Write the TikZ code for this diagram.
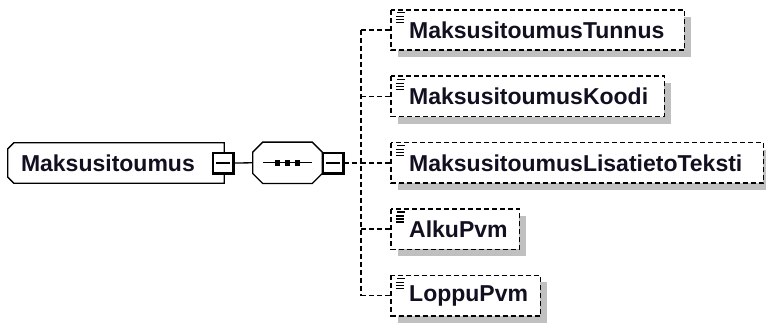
\documentclass[tikz,border=0pt]{standalone}
\usepackage{fontspec}
\setmainfont{Liberation Sans}
\definecolor{shadowgray}{HTML}{C0C0C0}
\definecolor{txt}{HTML}{101020}
\tikzset{
  lbl/.style={font=\fontsize{23}{23}\selectfont\bfseries, text=txt},
  mainbox/.style={rectangle, minimum width=216pt, minimum height=40pt,
    inner xsep=13pt, inner ysep=0pt, lbl},
  seqbox/.style={rectangle, minimum width=69pt, minimum height=41pt, inner sep=0pt},
  minusbox/.style={rectangle, draw=black, line width=1.3pt, fill=white, minimum width=20pt, minimum height=20pt, inner sep=0pt},
  childbox/.style={rectangle, minimum height=40pt, inner xsep=18pt, inner ysep=0pt, anchor=west, lbl},
  outline/.style={draw=black, line width=1.3pt, fill=white},
  dashedoutline/.style={draw=black, line width=1.5pt, dash pattern=on 5pt off 3pt, fill=white},
  shadowfill/.style={fill=shadowgray},
  conn/.style={draw=black, line width=1.3pt},
  dconn/.style={draw=black, line width=1.5pt, dash pattern=on 5pt off 3pt},
}
\newcommand{\minusmark}[1]{%
  \draw[line width=2.5pt] (#1.north east) -- (#1.south east) -- (#1.south west);
  \draw[line width=1.3pt] ([xshift=4pt]#1.west) -- ([xshift=-4pt]#1.east);}
\newcommand{\attricon}[1]{%
  \draw[line width=1.1pt] ([xshift=6pt,yshift=-3pt]#1.north west) -- ++(8,0);
  \draw[line width=1.1pt] ([xshift=5pt,yshift=-7pt]#1.north west) -- ++(8,0);
  \draw[line width=1.1pt] ([xshift=5pt,yshift=-10pt]#1.north west) -- ++(8,0);
  \draw[line width=1.1pt] ([xshift=5pt,yshift=-13pt]#1.north west) -- ++(8,0);}
\newcommand{\childframe}[1]{%
  \fill[shadowfill] ([shift={(7pt,-7pt)}]#1.north west) rectangle ([shift={(7pt,-7pt)}]#1.south east);
  \path[dashedoutline] (#1.north west) rectangle (#1.south east);}
\begin{document}
\begin{tikzpicture}[x=1pt,y=-1pt]
\useasboundingbox (0,0) rectangle (766,322);
% main element
\node[mainbox] (main) at (116,163) {};
\begin{scope}[shift={(7,7)}]
\fill[shadowfill] ([xshift=6pt]main.north west) -- (main.north east) -- (main.south east)
  -- ([xshift=6pt]main.south west) -- ([yshift=6pt]main.south west) -- ([yshift=-6pt]main.north west) -- cycle;
\end{scope}
\path[outline] ([xshift=6pt]main.north west) -- (main.north east) -- (main.south east)
  -- ([xshift=6pt]main.south west) -- ([yshift=6pt]main.south west) -- ([yshift=-6pt]main.north west) -- cycle;
\node[mainbox] at (main.center) {\makebox[190pt][l]{Maksusitoumus}};
\node[minusbox] (m1) at (223,163) {};
\minusmark{m1}
% sequence
\node[seqbox] (seq) at (287.5,162.8) {};
\begin{scope}[shift={(7,7)}]
\fill[shadowfill] ([xshift=10pt]seq.north west) -- ([xshift=-10pt]seq.north east) -- ([yshift=-10pt]seq.north east)
  -- ([yshift=10pt]seq.south east) -- ([xshift=-10pt]seq.south east) -- ([xshift=10pt]seq.south west)
  -- ([yshift=10pt]seq.south west) -- ([yshift=-10pt]seq.north west) -- cycle;
\end{scope}
\path[outline] ([xshift=10pt]seq.north west) -- ([xshift=-10pt]seq.north east) -- ([yshift=-10pt]seq.north east)
  -- ([yshift=10pt]seq.south east) -- ([xshift=-10pt]seq.south east) -- ([xshift=10pt]seq.south west)
  -- ([yshift=10pt]seq.south west) -- ([yshift=-10pt]seq.north west) -- cycle;
\node[minusbox] (m2) at (333,163) {};
\minusmark{m2}
\draw[conn] (m1.east) -- (seq.west);
\draw[conn] ([xshift=10pt]seq.west) -- ([xshift=-10pt]seq.east);
\foreach \dx in {-10,0,10}{
  \fill ([xshift=\dx pt]seq.center) ++(-2.8,-2.8) rectangle ++(5.6,5.6);
}
% children
\node[childbox] (c1) at (391,30)    {\makebox[257pt][l]{\phantom{MaksusitoumusTunnus}}};
\node[childbox] (c2) at (391,96.4)  {\makebox[237pt][l]{\phantom{MaksusitoumusKoodi}}};
\node[childbox] (c3) at (391,162.8) {\makebox[336pt][l]{\phantom{MaksusitoumusLisatietoTeksti}}};
\node[childbox] (c4) at (391,229.2) {\makebox[92pt][l]{\phantom{AlkuPvm}}};
\node[childbox] (c5) at (391,295.6) {\makebox[113pt][l]{\phantom{LoppuPvm}}};
\foreach \c in {c1,c2,c3,c4,c5}{\childframe{\c}\attricon{\c}}
\node[childbox] at (c1.west) {\makebox[257pt][l]{MaksusitoumusTunnus}};
\node[childbox] at (c2.west) {\makebox[237pt][l]{MaksusitoumusKoodi}};
\node[childbox] at (c3.west) {\makebox[336pt][l]{MaksusitoumusLisatietoTeksti}};
\node[childbox] at (c4.west) {\makebox[92pt][l]{AlkuPvm}};
\node[childbox] at (c5.west) {\makebox[113pt][l]{LoppuPvm}};
% connectors
\coordinate (j) at (361,163);
\draw[dconn] (m2.east) -- (j);
\draw[dconn] (c1.west -| j) -- (c5.west -| j);
\foreach \c in {c1,c2,c3,c4,c5}{
  \draw[dconn] (\c.west -| j) -- (\c.west);
}
\end{tikzpicture}
\end{document}
